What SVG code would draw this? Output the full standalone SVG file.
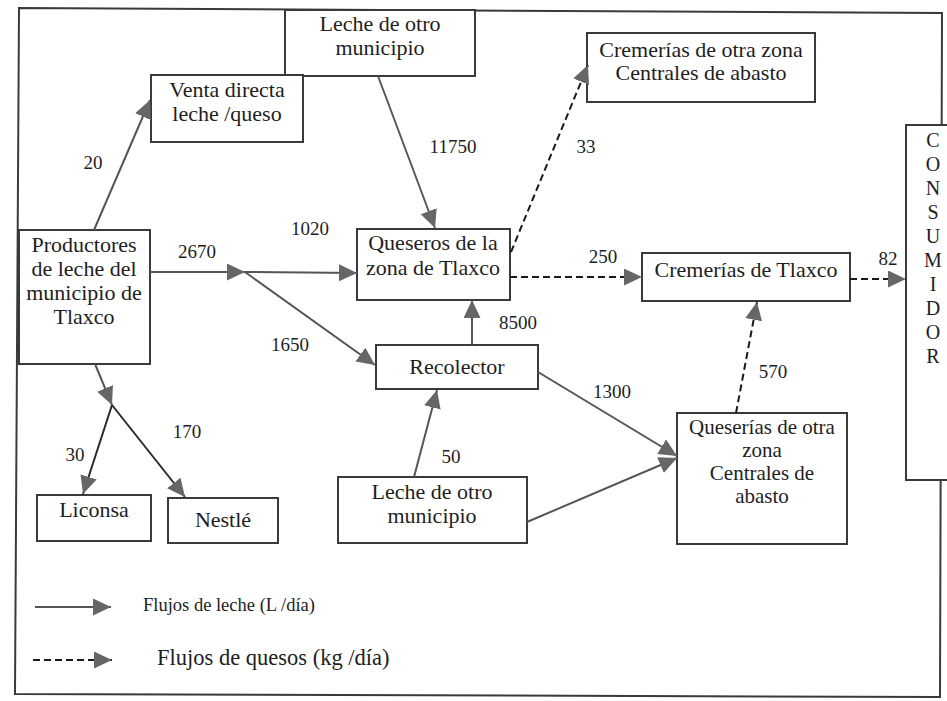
<svg xmlns="http://www.w3.org/2000/svg" width="947" height="701" viewBox="0 0 947 701">
  <style>
    .box { fill: #fff; stroke: #3a3a3a; stroke-width: 2; }
    .t { font-family: "Liberation Serif", "Times New Roman", serif; font-size: 22px; fill: #1e1e1e; text-anchor: middle; }
    .ts { font-family: "Liberation Serif", "Times New Roman", serif; font-size: 21px; fill: #1e1e1e; text-anchor: middle; }
    .c { font-family: "Liberation Serif", "Times New Roman", serif; font-size: 20px; fill: #1e1e1e; text-anchor: middle; }
    .n { font-family: "Liberation Serif", "Times New Roman", serif; font-size: 19px; fill: #1e1e1e; text-anchor: middle; }
    .milk { fill: none; stroke: #555; stroke-width: 2; marker-end: url(#head); }
    .milk-dark { fill: none; stroke: #2a2a2a; stroke-width: 2; marker-end: url(#head); }
    .cheese { fill: none; stroke: #1a1a1a; stroke-width: 2; stroke-dasharray: 7 4; marker-end: url(#head); }
    .frame { fill: none; stroke: #3a3a3a; stroke-width: 2; }
    .leg1 { font-family: "Liberation Serif", serif; font-size: 18.5px; fill: #1e1e1e; }
    .leg2 { font-family: "Liberation Serif", serif; font-size: 22.5px; fill: #1e1e1e; }
  </style>
  <defs>
    <marker id="head" markerUnits="userSpaceOnUse" markerWidth="19" markerHeight="19" refX="18" refY="8.5" orient="auto">
      <path d="M0,0 L18,8.5 L0,17 Z" fill="#666"/>
    </marker>
  </defs>

  <rect width="947" height="701" fill="#fff"/>

  <!-- outer frame -->
  <path class="frame" d="M19,8 L942,13 L940,697 L15,694 Z"/>

  <!-- nodes -->
  <g id="leche-otro-municipio-norte">
    <rect class="box" x="285" y="10" width="190" height="66"/>
    <text class="t" x="380" y="31">Leche de otro</text>
    <text class="t" x="380" y="55">municipio</text>
  </g>
  <g id="venta-directa">
    <rect class="box" x="151" y="75" width="152" height="67"/>
    <text class="t" x="227" y="97">Venta directa</text>
    <text class="t" x="227" y="121">leche /queso</text>
  </g>
  <g id="cremerias-otra-zona">
    <rect class="box" x="587" y="33" width="228" height="69"/>
    <text class="t" x="701" y="57">Cremerías de otra zona</text>
    <text class="t" x="701" y="80">Centrales de abasto</text>
  </g>
  <g id="consumidor">
    <rect class="box" x="906" y="125" width="60" height="355"/>
    <text class="c" x="933" y="147">C</text>
    <text class="c" x="933" y="171">O</text>
    <text class="c" x="933" y="195">N</text>
    <text class="c" x="933" y="219">S</text>
    <text class="c" x="933" y="243">U</text>
    <text class="c" x="933" y="267">M</text>
    <text class="c" x="933" y="291">I</text>
    <text class="c" x="933" y="315">D</text>
    <text class="c" x="933" y="339">O</text>
    <text class="c" x="933" y="363">R</text>
  </g>
  <g id="productores">
    <rect class="box" x="19" y="230" width="131" height="134"/>
    <text class="t" x="84" y="252">Productores</text>
    <text class="t" x="84" y="276">de leche del</text>
    <text class="t" x="84" y="300">municipio de</text>
    <text class="t" x="84" y="324">Tlaxco</text>
  </g>
  <g id="queseros-tlaxco">
    <rect class="box" x="357" y="229" width="153" height="71"/>
    <text class="t" x="433" y="250">Queseros de la</text>
    <text class="t" x="433" y="275">zona de Tlaxco</text>
  </g>
  <g id="cremerias-tlaxco">
    <rect class="box" x="642" y="253" width="208" height="48"/>
    <text class="t" x="746" y="277">Cremerías de Tlaxco</text>
  </g>
  <g id="recolector">
    <rect class="box" x="376" y="345" width="162" height="44"/>
    <text class="t" x="457" y="374">Recolector</text>
  </g>
  <g id="queserias-otra-zona">
    <rect class="box" x="677" y="413" width="170" height="131"/>
    <text class="ts" x="762" y="434">Queserías de otra</text>
    <text class="ts" x="762" y="457">zona</text>
    <text class="ts" x="762" y="480">Centrales de</text>
    <text class="ts" x="762" y="503">abasto</text>
  </g>
  <g id="leche-otro-municipio-sur">
    <rect class="box" x="338" y="477" width="189" height="66"/>
    <text class="t" x="432" y="499">Leche de otro</text>
    <text class="t" x="432" y="523">municipio</text>
  </g>
  <g id="liconsa">
    <rect class="box" x="37" y="495" width="114" height="46"/>
    <text class="t" x="94" y="517">Liconsa</text>
  </g>
  <g id="nestle">
    <rect class="box" x="168" y="498" width="110" height="45"/>
    <text class="t" x="223" y="527">Nestlé</text>
  </g>

  <!-- connectors -->
  <g id="connectors">
    <!-- milk flows (L/day) -->
    <line class="milk" x1="94" y1="230" x2="150" y2="100"/>
    <line class="milk" x1="378" y1="76" x2="435" y2="228"/>
    <line class="milk" x1="150" y1="272" x2="245" y2="272"/>
    <line class="milk" x1="245" y1="272" x2="357" y2="273"/>
    <line class="milk" x1="245" y1="272" x2="375" y2="365"/>
    <line class="milk" x1="472" y1="345" x2="472" y2="300"/>
    <line class="milk" x1="414" y1="477" x2="437" y2="390"/>
    <line class="milk" x1="538" y1="372" x2="677" y2="456"/>
    <line class="milk" x1="527" y1="522" x2="677" y2="458"/>
    <line class="milk" x1="95" y1="364" x2="112" y2="405"/>
    <line class="milk-dark" x1="112" y1="405" x2="83" y2="494"/>
    <line class="milk-dark" x1="112" y1="405" x2="185" y2="497"/>
    <!-- cheese flows (kg/day) -->
    <line class="cheese" x1="511" y1="252" x2="588" y2="65"/>
    <line class="cheese" x1="510" y1="277" x2="642" y2="277"/>
    <line class="cheese" x1="850" y1="279" x2="906" y2="279"/>
    <line class="cheese" x1="736" y1="413" x2="757" y2="302"/>

    <!-- flow quantities -->
    <text class="n" x="93" y="169">20</text>
    <text class="n" x="453" y="153">11750</text>
    <text class="n" x="586" y="153">33</text>
    <text class="n" x="310" y="235">1020</text>
    <text class="n" x="197" y="258">2670</text>
    <text class="n" x="290" y="351">1650</text>
    <text class="n" x="518" y="329">8500</text>
    <text class="n" x="603" y="263">250</text>
    <text class="n" x="888" y="265">82</text>
    <text class="n" x="612" y="398">1300</text>
    <text class="n" x="773" y="378">570</text>
    <text class="n" x="451" y="463">50</text>
    <text class="n" x="187" y="438">170</text>
    <text class="n" x="75" y="461">30</text>
  </g>

  <!-- legend -->
  <g id="legend">
    <line class="milk" x1="35" y1="607" x2="111" y2="607"/>
    <text class="leg1" x="143" y="611">Flujos de leche (L /día)</text>
    <line class="cheese" x1="33" y1="660" x2="112" y2="660"/>
    <text class="leg2" x="157" y="665">Flujos de quesos (kg /día)</text>
  </g>
</svg>
